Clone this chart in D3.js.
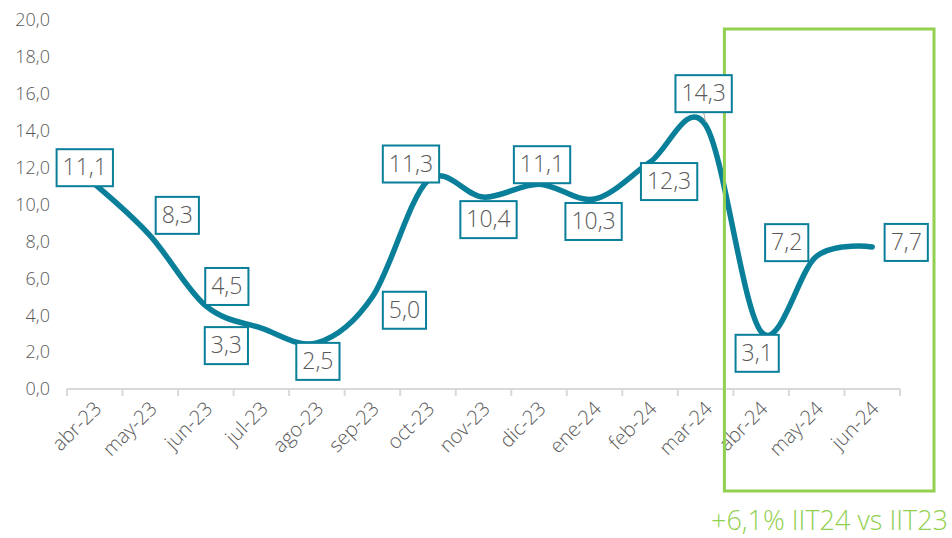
<!DOCTYPE html>
<html><head><meta charset="utf-8">
<script src="https://cdn.jsdelivr.net/npm/d3@7"></script>
<style>
body{margin:0;background:#fff;}
text{font-family:"Open Sans","Noto Sans",sans-serif;font-weight:300;}
</style></head>
<body><svg id="c" width="952" height="538"></svg>
<script>
const categories = ["abr-23","may-23","jun-23","jul-23","ago-23","sep-23","oct-23","nov-23","dic-23","ene-24","feb-24","mar-24","abr-24","may-24","jun-24"];
const values = [11.1,8.3,4.5,3.3,2.5,5.0,11.3,10.4,11.1,10.3,12.3,14.3,3.1,7.2,7.7];
const yTicks = [0,2,4,6,8,10,12,14,16,18,20];
const highlightCats = ["abr-24","jun-24"];
const annotation = "+6,1% IIT24 vs IIT23";
// label offsets (px) relative to point
const labelOffsets = [[-10,-17],[27,-21],[21,-20],[-35,17],[1,18],[32,13],[-17,-17],[5,22],[3,-20],[-1,22],[19,19],[-2,-32],[-4,21],[-30,-14],[34,-5]];

const fmt = v => v.toFixed(1).replace(".", ",");
const svg = d3.select("#c");
const teal = "#0A7F9A", grey = "#595959", green = "#92D050";
const x = d3.scaleBand().domain(categories).range([67, 900]);
const y = d3.scaleLinear().domain([0,20]).range([389,20]);

// y labels
svg.append("g").selectAll("text").data(yTicks).join("text")
  .attr("x", 50).attr("y", d => y(d)).attr("dy","0.35em")
  .attr("text-anchor","end").attr("fill",grey).attr("font-size",18)
  .text(fmt);

// x axis
const xa = svg.append("g").attr("transform","translate(0,389)")
  .call(d3.axisBottom(x).tickSize(0).tickFormat(""));
xa.select(".domain").attr("stroke","#d9d9d9").attr("stroke-width",2).attr("d","M67,0H900");
const bounds = categories.map(c => x(c)).concat([900]);
svg.append("g").selectAll("line").data(bounds).join("line")
  .attr("x1",d=>d).attr("x2",d=>d).attr("y1",389).attr("y2",396)
  .attr("stroke","#d9d9d9").attr("stroke-width",2);
svg.append("g").selectAll("text").data(categories).join("text")
  .attr("transform", d => `translate(${x(d)+x.bandwidth()/2+3},405) rotate(-45)`)
  .attr("text-anchor","end").attr("dy","0.35em")
  .attr("fill",grey).attr("font-size",20).text(d=>d);

// line
const px = (d,i) => x(categories[i]) + x.bandwidth()/2;
const line = d3.line().x((d,i)=>px(d,i)).y(d=>y(d)).curve(d3.curveCardinal.tension(0));
svg.append("path").datum(values).attr("d",line)
  .attr("fill","none").attr("stroke",teal).attr("stroke-width",5.5).attr("stroke-linecap","round");

// highlight rect
const hx0 = x(highlightCats[0]) - 9, hx1 = x(highlightCats[1]) + x.bandwidth() + 34;
svg.append("rect").attr("x",hx0).attr("y",29).attr("width",hx1-hx0).attr("height",462)
  .attr("fill","none").attr("stroke",green).attr("stroke-width",3);

// labels
const lg = svg.append("g");
values.forEach((v,i) => {
  const cx = px(v,i) + labelOffsets[i][0], cy = y(v) + labelOffsets[i][1];
  const g = lg.append("g");
  if (i === 11) {
    g.append("line").attr("x1",px(v,i)).attr("y1",y(v)-3).attr("x2",cx).attr("y2",cy+19)
      .attr("stroke","#a6a6a6").attr("stroke-width",1);
  }
  const t = g.append("text").attr("x",cx).attr("y",cy).attr("dy","0.36em")
    .attr("text-anchor","middle").attr("fill",grey).attr("font-size",23)
    .text(fmt(v));
  const w = t.node().getComputedTextLength() + 12;
  g.insert("rect","text").attr("x",cx-w/2).attr("y",cy-18).attr("width",w).attr("height",37)
    .attr("fill","#fff").attr("stroke",teal).attr("stroke-width",2);
});

svg.append("text").attr("x",948).attr("y",530).attr("text-anchor","end")
  .attr("fill",green).attr("font-size",27).text(annotation);
</script></body></html>
